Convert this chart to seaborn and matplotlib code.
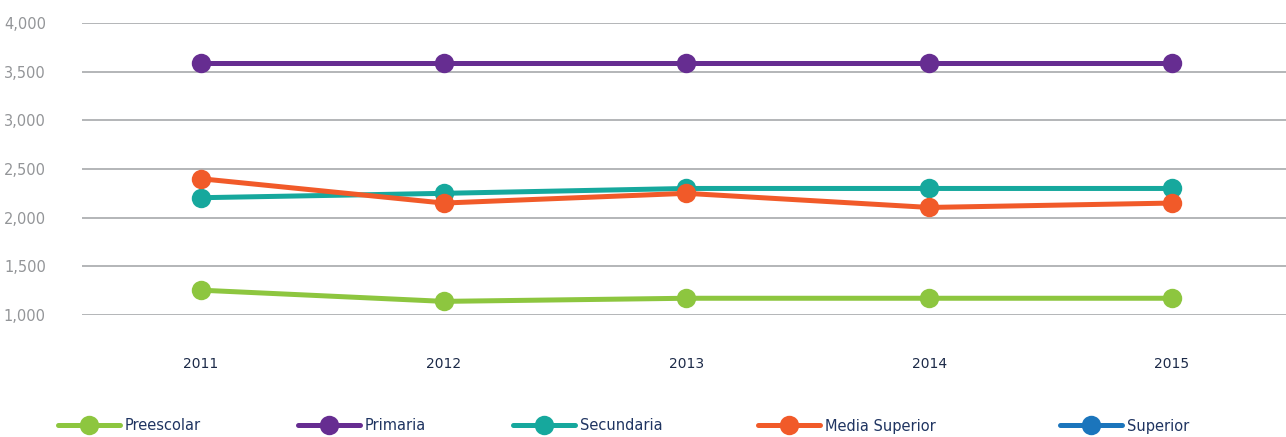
import numpy as np
import pandas as pd
import matplotlib
matplotlib.use("Agg")
import matplotlib.pyplot as plt
from matplotlib.lines import Line2D
import seaborn as sns

years = ["2011", "2012", "2013", "2014", "2015"]
series_names = ["Preescolar", "Primaria", "Secundaria", "Media Superior", "Superior"]
preescolar = [1255, 1140, 1172, 1172, 1172]
primaria = [3590, 3590, 3590, 3590, 3590]
secundaria = [2205, 2250, 2300, 2300, 2300]
media_superior = [2400, 2150, 2250, 2105, 2150]
superior = [np.nan, np.nan, np.nan, np.nan, np.nan]
y_ticks = [1000, 1500, 2000, 2500, 3000, 3500, 4000]

colors = ["#8DC63F", "#662D91", "#16A89D", "#F15A29", "#1B75BC"]

sns.set_style("white")
plt.rcParams["font.family"] = ["DejaVu Sans"]

df = pd.DataFrame({"year": years * 5,
                   "serie": np.repeat(series_names, 5),
                   "valor": preescolar + primaria + secundaria + media_superior + superior})

fig = plt.figure(figsize=(12.86, 4.37), dpi=100)
ax = fig.add_axes([82 / 1286, 1 - 315 / 437, 1 - 82 / 1286, (315 - 23) / 437])

for name, col in zip(series_names, colors):
    d = df[df["serie"] == name].dropna()
    if len(d) == 0:
        continue
    sns.lineplot(data=d, x="year", y="valor", color=col, marker="o", markersize=14,
                 linewidth=3.6, markeredgewidth=0, ax=ax, clip_on=False, zorder=3)

ax.set_xlim(-0.49, 4.47)
ax.set_ylim(1000, 4000)
ax.set_yticks(y_ticks)
ax.set_yticklabels([f"{v:,}" for v in y_ticks])
ax.grid(axis="y", color="#a7a9ac", linewidth=1.2)
ax.grid(axis="x", visible=False)
for s in ax.spines.values():
    s.set_visible(False)
ax.set_xlabel("")
ax.set_ylabel("")
ax.tick_params(axis="y", length=0, pad=26, labelsize=10.5, labelcolor="#939598")
ax.tick_params(axis="x", length=0, pad=30, labelsize=10, labelcolor="#1c2a48")

legend_x = [58, 298, 513, 758, 1060]
for name, col, lx in zip(series_names, colors, legend_x):
    h = Line2D([0], [0], color=col, marker="o", markersize=14, linewidth=3.6, markeredgewidth=0)
    fig.legend(handles=[h], labels=[name], loc="center left",
               bbox_to_anchor=(lx / 1286 - 0.006, 1 - 426 / 437), frameon=False,
               handlelength=4.3, handletextpad=0.3, fontsize=10.5, labelcolor="#1f3461",
               borderpad=0)

fig.savefig("out.png", dpi=100)
